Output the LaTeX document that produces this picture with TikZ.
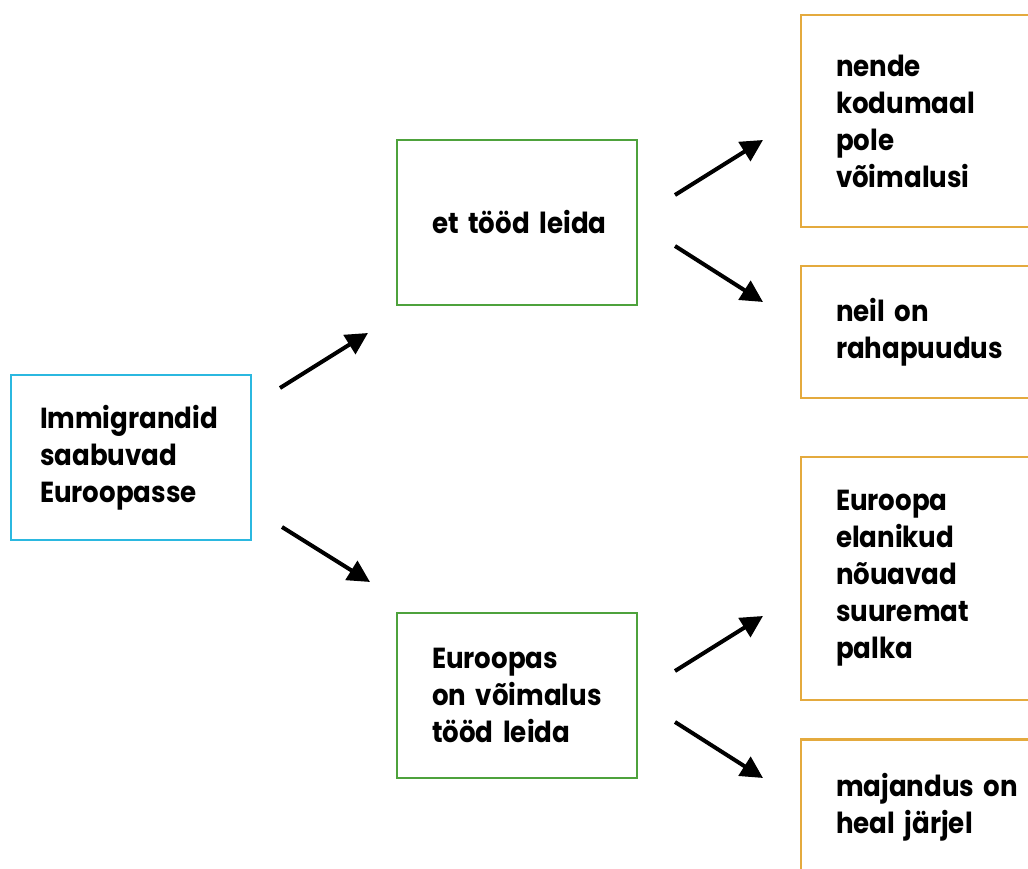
\documentclass[tikz,border=0pt]{standalone}
\usepackage{fontspec}
\setmainfont{Poppins}[FakeStretch=0.9]
\usetikzlibrary{arrows.meta}
\definecolor{boxblue}{RGB}{43,184,224}
\definecolor{boxgreen}{RGB}{78,162,60}
\definecolor{boxorange}{RGB}{228,170,62}

\begin{document}
\begin{tikzpicture}[x=1pt,y=1pt,
   every node/.style={font=\bfseries\fontsize{29}{37}\selectfont,align=left,inner ysep=0pt},
   cause/.style={draw=boxblue,line width=2.5pt,inner xsep=29pt,text width=182pt,minimum height=165pt},
   reason/.style={draw=boxgreen,line width=2.5pt,inner xsep=35pt,text width=170pt,minimum height=165pt},
   why/.style={draw=boxorange,line width=2.5pt,inner xsep=35pt,text width=200pt},
   arr/.style={line width=4pt,-{Triangle[length=22pt,width=22pt]}}]
   \clip (0,0) rectangle (1028,869);
   % Left
   \node[cause] (imm) at (131,411.5) {Immigrandid\\saabuvad\\Euroopasse};
   % Middle
   \node[reason] (too) at (517,646.5) {et~tööd~leida};
   \node[reason] (voi) at (517,173.5) {Euroopas\\on~võimalus\\tööd~leida};
   % Right
   \node[why,minimum height=212pt] (kodu) at (936,748) {nende\\kodumaal\\pole\\võimalusi};
   \node[why,minimum height=132pt] (raha) at (936,537) {neil~on\\rahapuudus};
   \node[why,minimum height=243pt] (palk) at (936,290.5) {Euroopa\\elanikud\\nõuavad\\suuremat\\palka};
   \node[why,minimum height=135pt] (maj) at (936,62) {majandus~on\\heal~järjel};
   % Arrows
   \coordinate (a1s) at (280,481); \coordinate (a1e) at (368,536);
   \coordinate (a2s) at (282,342); \coordinate (a2e) at (370,287);
   \coordinate (a3s) at (675,674); \coordinate (a3e) at (763,729);
   \coordinate (a4s) at (675,623); \coordinate (a4e) at (763,567);
   \coordinate (a5s) at (675,198); \coordinate (a5e) at (763,253);
   \coordinate (a6s) at (675,147); \coordinate (a6e) at (763,91);
   \foreach \i in {1,...,6}
     \draw[arr] (a\i s) -- (a\i e);
\end{tikzpicture}
\end{document}
